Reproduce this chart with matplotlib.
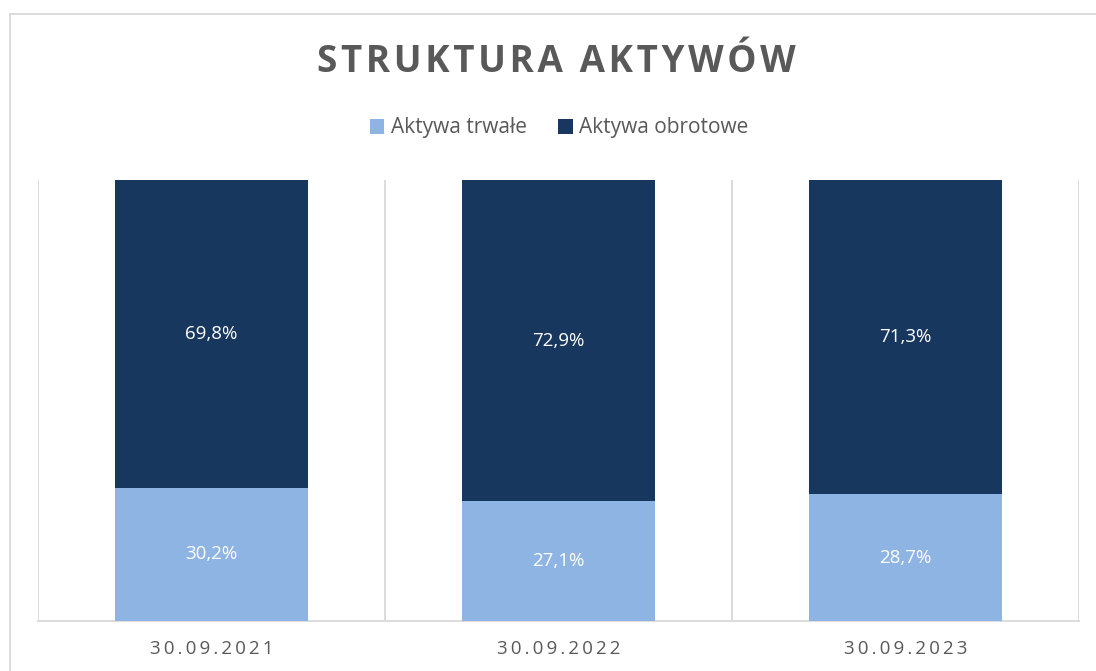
import matplotlib
matplotlib.use("Agg")
import matplotlib.pyplot as plt
from matplotlib.patches import Rectangle

plt.rcParams['font.family'] = ['Open Sans', 'DejaVu Sans']

categories = ['30.09.2021', '30.09.2022', '30.09.2023']
trwale = [30.2, 27.1, 28.7]
obrotowe = [69.8, 72.9, 71.3]
series_names = ['Aktywa trwałe', 'Aktywa obrotowe']
title = 'STRUKTURA AKTYWÓW'

c_light = '#8EB4E3'
c_dark = '#17375E'
grey = '#595959'
grid_c = '#D9D9D9'


def spaced(s, sep='\u2009'):
    return sep.join(s)


fig = plt.figure(figsize=(10.96, 6.71), dpi=100)
ax = fig.add_axes([38 / 1096, 1 - 621 / 671, (1079 - 38) / 1096, (621 - 180) / 671])

# chart border
fig.patches.append(Rectangle((9.5 / 1096, -0.1), 1.2, (671 - 13.5) / 671 + 0.1,
                             transform=fig.transFigure, fill=False,
                             edgecolor=grid_c, linewidth=1.3))

x = range(len(categories))
w = 0.556
b1 = ax.bar(x, trwale, width=w, color=c_light, label=series_names[0], zorder=3)
b2 = ax.bar(x, obrotowe, width=w, bottom=trwale, color=c_dark, label=series_names[1], zorder=3)

for i in x:
    ax.text(i, trwale[i] / 2, f"{trwale[i]:.1f}%".replace('.', ','),
            ha='center', va='center', color='white', fontsize=13.5, zorder=4)
    ax.text(i, trwale[i] + obrotowe[i] / 2, f"{obrotowe[i]:.1f}%".replace('.', ','),
            ha='center', va='center', color='white', fontsize=13.5, zorder=4)

for xv in [-0.5, 0.5, 1.5, 2.5]:
    ax.axvline(xv, color=grid_c, linewidth=1.3, zorder=1)

ax.set_xlim(-0.5, 2.5)
ax.set_ylim(0, 100)
ax.set_yticks([])
ax.set_xticks(list(x))
ax.set_xticklabels([spaced(c, '\u2009') for c in categories], fontsize=13.5, color=grey)
ax.tick_params(axis='x', length=0, pad=14)
for s in ['top', 'left', 'right']:
    ax.spines[s].set_visible(False)
ax.spines['bottom'].set_color(grid_c)
ax.spines['bottom'].set_linewidth(1.3)

fig.text(556 / 1096, 1 - 62 / 671, spaced(title, '\u200a'), ha='center', va='center',
         fontsize=26.5, fontweight='bold', color=grey)

fig.legend(handles=[b1, b2], labels=series_names, loc='center', ncol=2,
           bbox_to_anchor=(559 / 1096, 1 - 128 / 671), frameon=False, fontsize=15,
           labelcolor=grey, handlelength=0.7, handleheight=0.7, handletextpad=0.3,
           columnspacing=1.5)

fig.savefig('out.png', dpi=100)
